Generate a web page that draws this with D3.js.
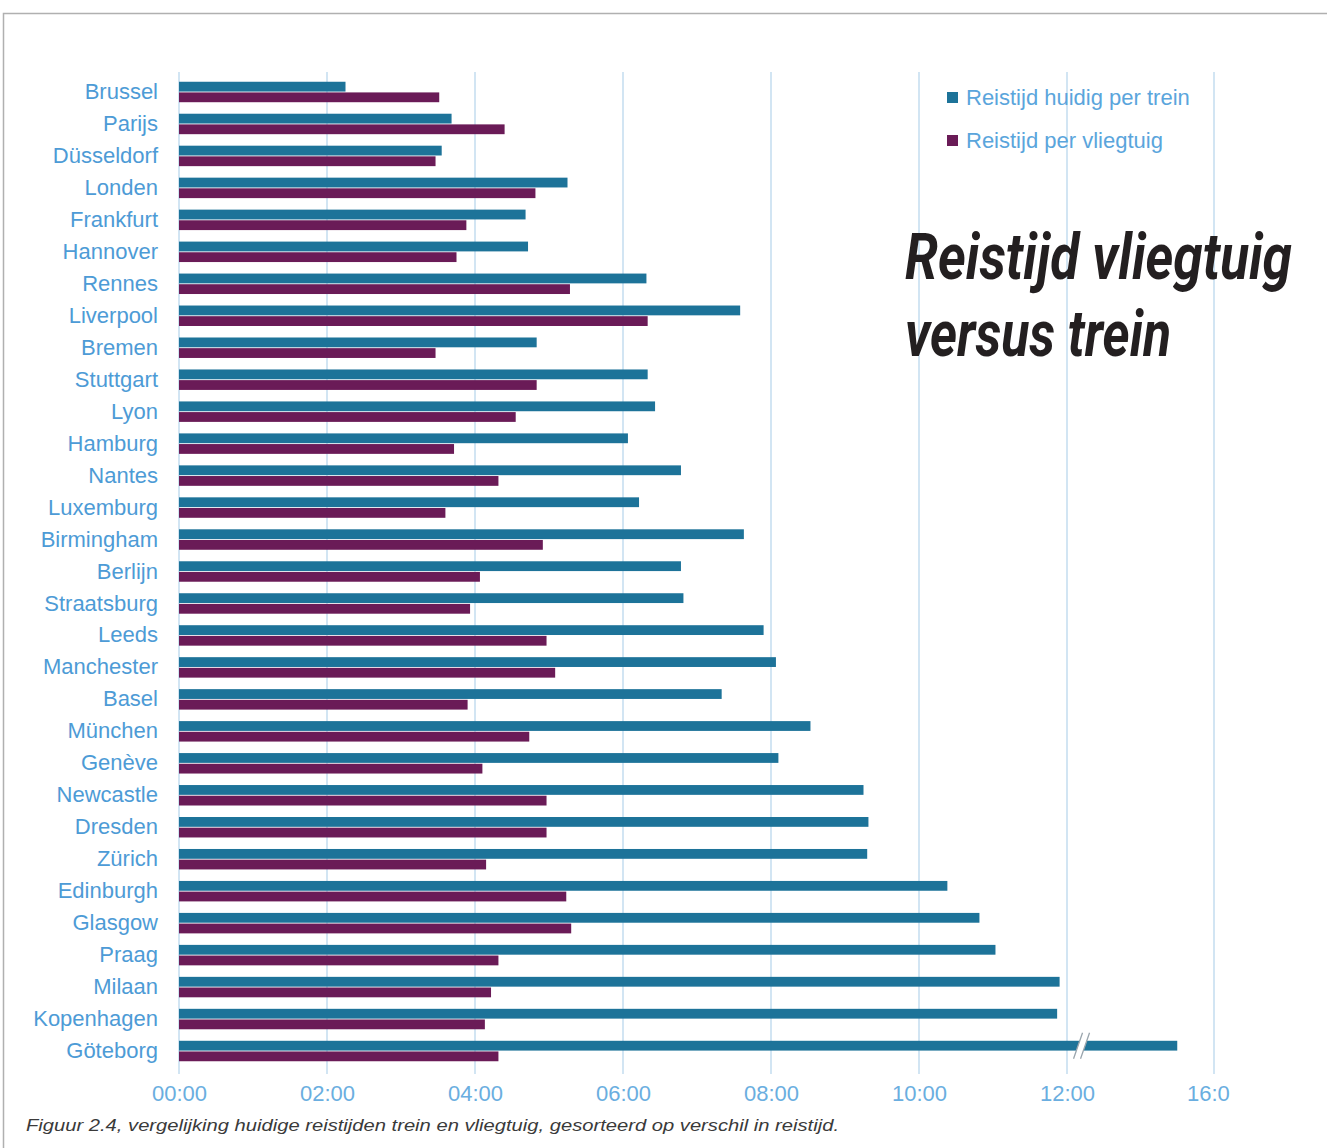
<!DOCTYPE html>
<html lang="nl">
<head>
<meta charset="utf-8">
<script src="https://cdn.jsdelivr.net/npm/d3@7"></script>
<style>
  html, body { margin: 0; padding: 0; background: #ffffff; }
  svg { display: block; }
</style>
</head>
<body>
<svg id="chart" width="1327" height="1148"></svg>
<script>
// Steden, gesorteerd op verschil in reistijd (trein min vliegtuig)
const cities = [
  "Brussel", "Parijs", "Düsseldorf", "Londen", "Frankfurt", "Hannover",
  "Rennes", "Liverpool", "Bremen", "Stuttgart", "Lyon", "Hamburg",
  "Nantes", "Luxemburg", "Birmingham", "Berlijn", "Straatsburg", "Leeds",
  "Manchester", "Basel", "München", "Genève", "Newcastle", "Dresden",
  "Zürich", "Edinburgh", "Glasgow", "Praag", "Milaan", "Kopenhagen", "Göteborg"
];

// Reistijd huidig per trein (uu:mm)
const trainTimes = [
  "2:15", "3:41", "3:33", "5:15", "4:41", "4:43",
  "6:19", "7:35", "4:50", "6:20", "6:26", "6:04",
  "6:47", "6:13", "7:38", "6:47", "6:49", "7:54",
  "8:04", "7:20", "8:32", "8:06", "9:15", "9:19",
  "9:18", "10:23", "10:49", "11:02", "11:54", "11:52", "15:00"
];

// Reistijd per vliegtuig (uu:mm)
const planeTimes = [
  "3:31", "4:24", "3:28", "4:49", "3:53", "3:45",
  "5:17", "6:20", "3:28", "4:50", "4:33", "3:43",
  "4:19", "3:36", "4:55", "4:04", "3:56", "4:58",
  "5:05", "3:54", "4:44", "4:06", "4:58", "4:58",
  "4:09", "5:14", "5:18", "4:19", "4:13", "4:08", "4:19"
];

const seriesNames = ["Reistijd huidig per trein", "Reistijd per vliegtuig"];
const seriesKeys = ["trein", "vliegtuig"];

// As: 0–12 uur lineair, daarna een onderbroken stuk tot 16 uur
const tickHours = [0, 2, 4, 6, 8, 10, 12, 16];
const axisDomain = [0, 12, 16];

const titleLines = ["Reistijd vliegtuig", "versus trein"];
const caption = "Figuur 2.4, vergelijking huidige reistijden trein en vliegtuig, gesorteerd op verschil in reistijd.";

const colors = { trein: "#1d7399", vliegtuig: "#6a1b57" };

const toHours = s => { const [h, m] = s.split(":").map(Number); return h + m / 60; };
const rows = cities.map((c, i) => ({
  city: c,
  trein: toHours(trainTimes[i]),
  vliegtuig: toHours(planeTimes[i])
}));

const svg = d3.select("#chart");

// Kader rond de figuur
svg.append("rect")
  .attr("x", 3.5).attr("y", 13.5)
  .attr("width", 1340).attr("height", 1150)
  .attr("fill", "none").attr("stroke", "#b0b0b0").attr("stroke-width", 1.5);

const x = d3.scaleLinear().domain(axisDomain).range([179, 1067, 1214]);

const y = d3.scaleBand()
  .domain(cities)
  .range([76, 1067])
  .paddingInner(0.36)
  .paddingOuter(0.18);

const ySub = d3.scaleBand()
  .domain(seriesKeys)
  .range([0, y.bandwidth()])
  .paddingInner(0.08);

// Verticale rasterlijnen
svg.append("g").attr("class", "grid")
  .selectAll("line")
  .data(tickHours)
  .join("line")
  .attr("x1", d => x(d)).attr("x2", d => x(d))
  .attr("y1", 72).attr("y2", 1074)
  .attr("stroke", "#d2e5f3").attr("stroke-width", 2);

// Staven
const groups = svg.append("g").attr("class", "bars")
  .selectAll("g")
  .data(rows)
  .join("g")
  .attr("transform", d => `translate(0,${y(d.city)})`);

groups.selectAll("rect")
  .data(d => seriesKeys.map(k => ({ key: k, value: d[k] })))
  .join("rect")
  .attr("x", x(0))
  .attr("y", d => ySub(d.key))
  .attr("width", d => x(d.value) - x(0))
  .attr("height", ySub.bandwidth())
  .attr("fill", d => colors[d.key]);

// Onderbrekingsteken op de langste treinstaaf
const longest = rows.filter(d => d.trein > 12);
const breakAt = 12.45;
svg.append("g").attr("class", "axis-break")
  .selectAll("g")
  .data(longest)
  .join("g")
  .attr("transform", d => `translate(${x(breakAt)},${y(d.city) + ySub("trein") + ySub.bandwidth() / 2})`)
  .call(g => {
    g.append("path")
      .attr("d", "M-10,13 L-1,-13 L6,-13 L-3,13 Z")
      .attr("fill", "#ffffff");
    g.append("path")
      .attr("d", "M-10,13 L-1,-13 M-3,13 L6,-13")
      .attr("stroke", "#9aa5ad").attr("stroke-width", 1.3).attr("fill", "none");
  });

// Categorie-as
const yAxis = svg.append("g")
  .attr("transform", `translate(${x(0)},0)`)
  .call(d3.axisLeft(y).tickSize(0).tickPadding(21));
yAxis.select(".domain").remove();
yAxis.selectAll("text")
  .attr("font-family", "'Liberation Sans', Arial, sans-serif")
  .attr("font-size", 22)
  .attr("fill", "#4d9bd6");

// Tijd-as (het laatste label valt deels buiten het tekengebied)
const clip = svg.append("clipPath").attr("id", "axis-clip");
clip.append("rect").attr("x", 0).attr("y", 1070).attr("width", 1230).attr("height", 60);

const fmt = h => String(h).padStart(2, "0") + ":00";
const xAxis = svg.append("g")
  .attr("clip-path", "url(#axis-clip)")
  .append("g")
  .attr("transform", "translate(0,1085)")
  .call(d3.axisBottom(x).tickValues(tickHours).tickFormat(fmt).tickSize(0).tickPadding(0));
xAxis.select(".domain").remove();
xAxis.selectAll("text")
  .attr("font-family", "'Liberation Sans', Arial, sans-serif")
  .attr("font-size", 22)
  .attr("fill", "#6aaee0");

// Legenda
const legend = svg.append("g").attr("class", "legend")
  .selectAll("g")
  .data(seriesKeys)
  .join("g")
  .attr("transform", (d, i) => `translate(947,${92 + i * 43})`);
legend.append("rect")
  .attr("width", 11).attr("height", 11)
  .attr("fill", d => colors[d]);
legend.append("text")
  .attr("x", 19).attr("y", 5.5)
  .attr("dy", "0.35em")
  .attr("font-family", "'Liberation Sans', Arial, sans-serif")
  .attr("font-size", 22)
  .attr("fill", "#5aa5dc")
  .text((d, i) => seriesNames[i]);

// Titel: smal gezette, vette cursieve letter
const titleScaleX = 0.8;
const titleWidths = [387, 266];
svg.append("g").attr("class", "title")
  .selectAll("text")
  .data(titleLines)
  .join("text")
  .attr("transform", (d, i) => `translate(905,${279 + i * 77}) scale(${titleScaleX},1)`)
  .attr("font-family", "Roboto, sans-serif")
  .attr("font-weight", 700)
  .attr("font-style", "italic")
  .attr("font-size", 64)
  .attr("textLength", (d, i) => titleWidths[i] / titleScaleX)
  .attr("lengthAdjust", "spacingAndGlyphs")
  .attr("fill", "#231f20")
  .text(d => d);

// Onderschrift
svg.append("text")
  .attr("x", 26).attr("y", 1131)
  .attr("font-family", "'Liberation Sans', Arial, sans-serif")
  .attr("font-style", "italic")
  .attr("font-size", 17)
  .attr("textLength", 813)
  .attr("lengthAdjust", "spacingAndGlyphs")
  .attr("fill", "#3a3a3a")
  .text(caption);
</script>
</body>
</html>
